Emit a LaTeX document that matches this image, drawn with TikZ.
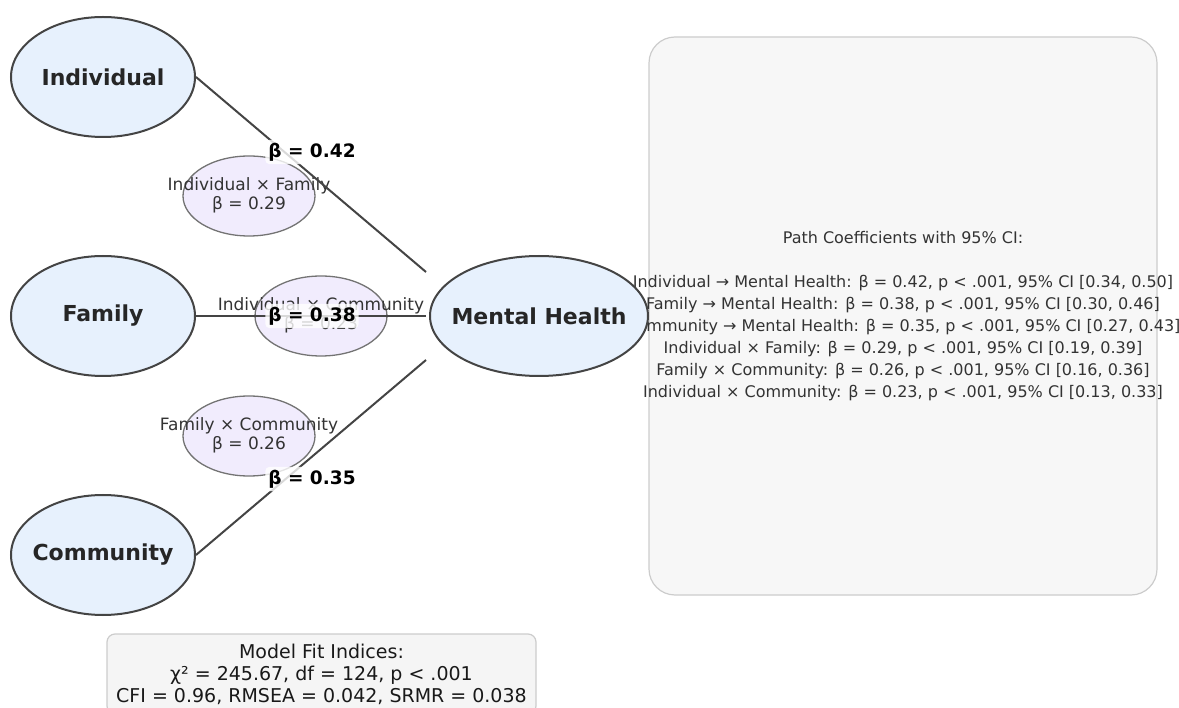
\documentclass[tikz,border=0pt]{standalone}
\usepackage{fontspec}
\setmainfont{DejaVu Sans}
\usetikzlibrary{shapes.geometric}

\definecolor{factorfill}{HTML}{E7F1FD}
\definecolor{interfill}{HTML}{F1ECFD}
\definecolor{edgegray}{HTML}{444444}
\definecolor{textgray}{HTML}{333333}

\tikzset{
  factor/.style={ellipse, draw=edgegray, line width=2pt, fill=factorfill,
    inner sep=0pt, minimum width=184pt, minimum height=120pt},
  factortext/.style={font=\fontsize{22}{26}\selectfont\bfseries, text=black!85},
  inter/.style={ellipse, draw=black!55, line width=1.3pt, fill=interfill,
    inner sep=0pt, minimum width=132pt, minimum height=80pt},
  intertext/.style={align=center, text=textgray, inner sep=0pt,
    font=\fontsize{17}{19.5}\selectfont},
  path/.style={draw=edgegray, line width=2pt},
  coef/.style={fill=white, fill opacity=0.8, text opacity=1, rounded corners=4pt,
    inner sep=3pt, font=\fontsize{18.5}{22}\selectfont\bfseries},
  panel/.style={draw=black!20, line width=1.2pt, inner sep=0pt}
}

\begin{document}
\begin{tikzpicture}[x=1pt, y=-1pt]
\useasboundingbox (0,0) rectangle (1179,708);
\clip (0,0) rectangle (1179,708);

% summary panels
\node[panel, fill=black!3, rounded corners=26pt, minimum width=508pt,
  minimum height=558pt] (paths) at (903,316) {};
\node[align=center, inner sep=0pt, text=textgray,
  font=\fontsize{16}{22}\selectfont] (pathtext) at (paths.center)
  {Path Coefficients with 95\% CI:\\[22pt]
  Individual → Mental Health: β = 0.42, p < .001, 95\% CI [0.34, 0.50]\\
  Family → Mental Health: β = 0.38, p < .001, 95\% CI [0.30, 0.46]\\
  Community → Mental Health: β = 0.35, p < .001, 95\% CI [0.27, 0.43]\\
  Individual × Family: β = 0.29, p < .001, 95\% CI [0.19, 0.39]\\
  Family × Community: β = 0.26, p < .001, 95\% CI [0.16, 0.36]\\
  Individual × Community: β = 0.23, p < .001, 95\% CI [0.13, 0.33]};
\node[panel, fill=black!4, rounded corners=8pt, minimum width=429pt,
  minimum height=80pt] (fit) at (321.5,674) {};
\node[align=center, inner sep=0pt, text=black!90,
  font=\fontsize{19}{22}\selectfont] (fittext) at (fit.center)
  {Model Fit Indices:\\
  χ² = 245.67, df = 124, p < .001\\
  CFI = 0.96, RMSEA = 0.042, SRMR = 0.038};

% latent factors
\node[factor, label={[factortext]center:Individual}] (ind) at (103,77) {};
\node[factor, label={[factortext]center:Family}] (fam) at (103,316) {};
\node[factor, label={[factortext]center:Community}] (com) at (103,555) {};
\node[factor, minimum width=218pt, label={[factortext]center:Mental Health}]
  (mh) at (539,316) {};

% interaction terms
\node[inter] (ixf) at (249,196) {};
\node[inter] (ixc) at (321,316) {};
\node[inter] (fxc) at (249,436) {};
\node[intertext] at (249,195.5) {Individual × Family\\β = 0.29};
\node[intertext] at (321,315.5) {Individual × Community\\β = 0.23};
\node[intertext] at (249,435.5) {Family × Community\\β = 0.26};

% direct paths
\draw[path] (ind.east) -- ([xshift=-3pt, yshift=44pt]mh.west);
\draw[path] (fam.east) -- ([xshift=-3pt]mh.west);
\draw[path] (com.east) -- ([xshift=-3pt, yshift=-44pt]mh.west);

\node[coef] (b1) at (312,152) {β = 0.42};
\node[coef] (b2) at (312,316) {β = 0.38};
\node[coef] (b3) at (312,479) {β = 0.35};
\end{tikzpicture}
\end{document}
